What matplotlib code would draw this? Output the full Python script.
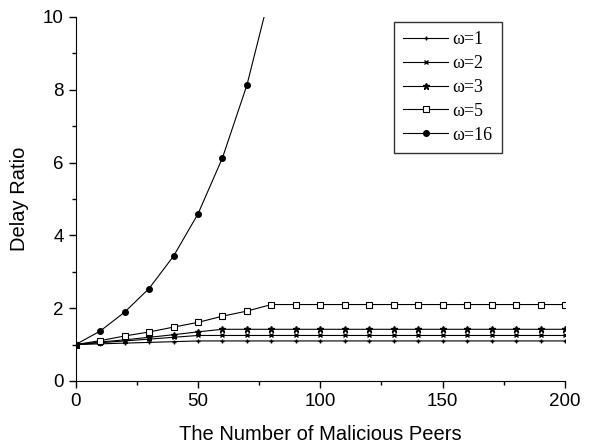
import matplotlib
matplotlib.use('Agg')
import matplotlib.pyplot as plt
from matplotlib.ticker import MultipleLocator

peers = [0, 10, 20, 30, 40, 50, 60, 70, 80, 90, 100, 110, 120, 130, 140,
         150, 160, 170, 180, 190, 200]

w1 = [1.0, 1.02, 1.04, 1.06, 1.08, 1.10] + [1.10] * 15
w2 = [1.0, 1.05, 1.10, 1.15, 1.20, 1.25] + [1.25] * 15
w3 = [1.0, 1.07, 1.13, 1.20, 1.27, 1.35, 1.42] + [1.42] * 14
w5 = [1.0, 1.107, 1.236, 1.346, 1.48, 1.61, 1.78, 1.92, 2.10] + [2.10] * 12
w16_x = [0, 10, 20, 30, 40, 50, 60, 70, 80]
w16 = [1.0, 1.37, 1.89, 2.54, 3.43, 4.59, 6.13, 8.13, 10.8]

plt.rcParams['font.family'] = 'Liberation Sans'
fig = plt.figure(figsize=(5.91, 4.47), dpi=100)
ax = fig.add_axes([0.128, 0.1477, 0.828, 0.8143])

ax.plot(peers, w1, 'k-', marker='+', markersize=3.5, linewidth=0.8, label='ω=1')
ax.plot(peers, w2, 'k-', marker='x', markersize=2.5, linewidth=0.8, label='ω=2')
ax.plot(peers, w3, 'k-', marker='*', markersize=5, linewidth=0.8, label='ω=3')
ax.plot(peers, w5, 'k-', marker='s', markersize=4, markerfacecolor='white',
        markeredgewidth=0.8, linewidth=0.8, label='ω=5')
ax.plot(w16_x, w16, 'k-', marker='o', markersize=4, linewidth=0.8, label='ω=16')

ax.set_xlim(0, 200)
ax.set_ylim(0, 10)
ax.xaxis.set_major_locator(MultipleLocator(50))
ax.xaxis.set_minor_locator(MultipleLocator(25))
ax.yaxis.set_major_locator(MultipleLocator(2))
ax.yaxis.set_minor_locator(MultipleLocator(1))
ax.spines['top'].set_visible(False)
ax.spines['right'].set_visible(False)
ax.tick_params(which='major', direction='out', length=5, width=1, labelsize=13.5)
ax.tick_params(which='minor', direction='out', length=3, width=1)
ax.set_xlabel('The Number of Malicious Peers', fontsize=14.5, labelpad=11)
ax.set_ylabel('Delay Ratio', fontsize=14.5, labelpad=10)

leg = ax.legend(loc='upper right', bbox_to_anchor=(0.871, 0.986), borderaxespad=0,
                frameon=True, fancybox=False, edgecolor='black', handlelength=2.5,
                labelspacing=0.38, borderpad=0.5, handletextpad=0.25,
                prop={'family': 'Liberation Serif', 'size': 13})
leg.get_frame().set_linewidth(1.0)

plt.savefig('out.png', dpi=100)
